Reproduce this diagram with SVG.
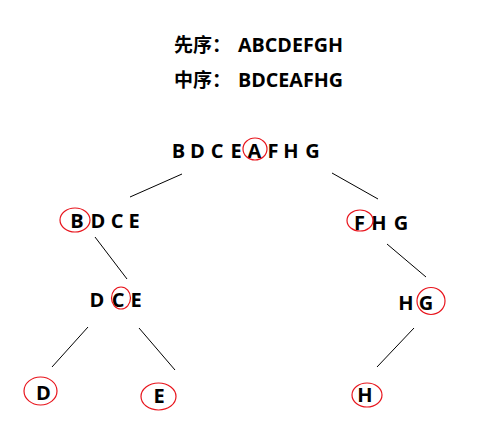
<svg xmlns="http://www.w3.org/2000/svg" width="495" height="433" viewBox="0 0 495 433">
<style>
text{font-family:"Open Sans","Noto Sans CJK SC",sans-serif;font-weight:bold;font-size:20px;fill:#000}
.c{text-anchor:middle}
.h{font-family:"Noto Sans CJK SC",sans-serif;font-size:19px}
ellipse{fill:none;stroke:#e8141c;stroke-width:1.2}
line{stroke:#000;stroke-width:1}
</style>
<rect width="495" height="433" fill="#fff"/>
<g id="header">
<text class="h" x="174" y="52">先序：</text>
<text x="238" y="52" textLength="105" lengthAdjust="spacingAndGlyphs">ABCDEFGH</text>
<text class="h" x="174" y="87">中序：</text>
<text x="238" y="87" textLength="105" lengthAdjust="spacingAndGlyphs">BDCEAFHG</text>
</g>
<g id="connectors">
<line x1="130" y1="197" x2="182" y2="174"/>
<line x1="332" y1="173" x2="378" y2="199"/>
<line x1="95" y1="237" x2="127" y2="279"/>
<line x1="387" y1="244" x2="426" y2="277"/>
<line x1="88" y1="327" x2="52" y2="367"/>
<line x1="139" y1="328" x2="175" y2="370"/>
<line x1="414" y1="328" x2="377" y2="367"/>
</g>
<g id="root">
<text class="c" y="158"><tspan x="178.5">B</tspan><tspan x="197.5">D</tspan><tspan x="217">C</tspan><tspan x="236">E</tspan><tspan x="254.5">A</tspan><tspan x="273">F</tspan><tspan x="291">H</tspan><tspan x="312.5">G</tspan></text>
<ellipse cx="255" cy="149" rx="12" ry="11"/>
</g>
<g id="node-BDCE">
<text class="c" y="228"><tspan x="77">B</tspan><tspan x="98">D</tspan><tspan x="117">C</tspan><tspan x="134">E</tspan></text>
<ellipse cx="75" cy="220" rx="15" ry="12"/>
</g>
<g id="node-FHG">
<text class="c" y="230"><tspan x="359.5">F</tspan><tspan x="379">H</tspan><tspan x="401">G</tspan></text>
<ellipse cx="360" cy="220.5" rx="13" ry="10.5"/>
</g>
<g id="node-DCE">
<text class="c" y="307"><tspan x="97">D</tspan><tspan x="118">C</tspan><tspan x="136">E</tspan></text>
<ellipse cx="121" cy="298" rx="9.5" ry="11"/>
</g>
<g id="node-HG">
<text class="c" y="310"><tspan x="406">H</tspan><tspan x="426">G</tspan></text>
<ellipse cx="431" cy="301" rx="14" ry="13.5"/>
</g>
<g id="leaf-D">
<text class="c" x="43.5" y="400">D</text>
<ellipse cx="40.5" cy="391" rx="16.5" ry="14"/>
</g>
<g id="leaf-E">
<text class="c" x="159" y="403">E</text>
<ellipse cx="158.5" cy="396.5" rx="17.5" ry="13.5"/>
</g>
<g id="leaf-H">
<text class="c" x="365" y="402">H</text>
<ellipse cx="367" cy="395" rx="15" ry="12"/>
</g>
</svg>
